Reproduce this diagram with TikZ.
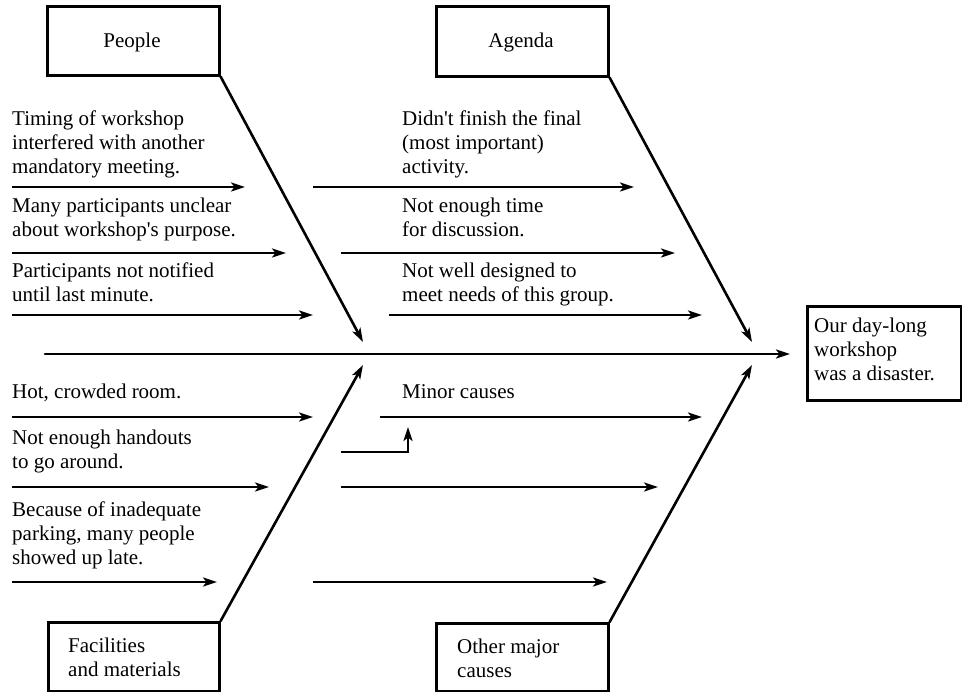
\documentclass[tikz,border=0pt]{standalone}
\usepackage{fontspec}
\setmainfont{Liberation Serif}
\usetikzlibrary{arrows.meta}
\newcommand\fishfont{\fontsize{21}{24}\selectfont}
\newcommand\lines[1]{\begin{tabular}[t]{@{}l@{}}#1\end{tabular}}
\tikzset{
  tip/.style={-{Stealth[length=14pt,width=9pt,inset=3.5pt]}},
  cause/.style={line width=2.3pt, tip},
  bone/.style={line width=2.6pt, line cap=round},
  boxnode/.style={draw, line width=2.6pt, rectangle, inner sep=0pt, anchor=north west},
  lbl/.style={anchor=base west, inner sep=0pt, font=\fishfont},
  ctr/.style={anchor=base, inner sep=0pt, font=\fishfont}
}
\begin{document}
\begin{tikzpicture}[x=1pt,y=-1pt]
\useasboundingbox (0,0) rectangle (962,692);

% category boxes
\node[boxnode, minimum width=172pt, minimum height=69pt] (people) at (46,5) {};
\node[boxnode, minimum width=172pt, minimum height=70pt] (agenda) at (435,5) {};
\node[boxnode, minimum width=171pt, minimum height=69pt] (facil) at (47,621) {};
\node[boxnode, minimum width=172pt, minimum height=68pt] (other) at (435,622) {};
\node[boxnode, minimum width=154pt, minimum height=94pt] (effect) at (806,305) {};

\node[ctr] (tpeople) at (132,48) {People};
\node[ctr] (tagenda) at (521,48) {Agenda};
\node[lbl] (tfacil) at (68,652) {\lines{Facilities\\and materials}};
\node[lbl] (tother) at (457,653) {\lines{Other major\\causes}};
\node[lbl] (teffect) at (814,333) {\lines{Our day-long\\workshop\\was a disaster.}};

% spine and bones
\coordinate (spineL) at (45,354);
\coordinate (spineR) at (790,354);
\coordinate (hitP) at (363,342);
\coordinate (hitA) at (752,342);
\coordinate (hitF) at (363,365);
\coordinate (hitO) at (752,365);
\draw[bone, tip] (spineL) -- (spineR);
\draw[bone, tip] (people.south east) -- (hitP);
\draw[bone, tip] (agenda.south east) -- (hitA);
\draw[bone, tip] (facil.north east) -- (hitF);
\draw[bone, tip] (other.north east) -- (hitO);

% left-hand causes
\coordinate (l1a) at (12,187); \coordinate (l1b) at (245,187);
\coordinate (l2a) at (12,253); \coordinate (l2b) at (286,253);
\coordinate (l3a) at (12,315); \coordinate (l3b) at (313,315);
\coordinate (l4a) at (12,417); \coordinate (l4b) at (313,417);
\coordinate (l5a) at (12,487); \coordinate (l5b) at (269,487);
\coordinate (l6a) at (12,582); \coordinate (l6b) at (217,582);
\foreach \k in {1,...,6} \draw[cause] (l\k a) -- (l\k b);

% middle causes
\coordinate (m1a) at (313,187); \coordinate (m1b) at (634,187);
\coordinate (m2a) at (341,253); \coordinate (m2b) at (675,253);
\coordinate (m3a) at (389,315); \coordinate (m3b) at (702,315);
\coordinate (m4a) at (380,417); \coordinate (m4b) at (702,417);
\coordinate (m5a) at (341,487); \coordinate (m5b) at (658,487);
\coordinate (m6a) at (313,582); \coordinate (m6b) at (607,582);
\foreach \k in {1,...,6} \draw[cause] (m\k a) -- (m\k b);

% minor cause feeding into a cause
\coordinate (mina) at (341,452);
\coordinate (minb) at (408,427);
\draw[cause] (mina) -| (minb);

% cause texts
\node[lbl] (c1) at (12,126) {\lines{Timing of workshop\\interfered with another\\mandatory meeting.}};
\node[lbl] (c2) at (12,213) {\lines{Many participants unclear\\about workshop\textquotesingle s purpose.}};
\node[lbl] (c3) at (12,278) {\lines{Participants not notified\\until last minute.}};
\node[lbl] (c4) at (12,399) {Hot, crowded room.};
\node[lbl] (c5) at (12,445) {\lines{Not enough handouts\\to go around.}};
\node[lbl] (c6) at (12,517) {\lines{Because of inadequate\\parking, many people\\showed up late.}};
\node[lbl] (c7) at (402,126) {\lines{Didn\textquotesingle t finish the final\\(most important)\\activity.}};
\node[lbl] (c8) at (402,213) {\lines{Not enough time\\for discussion.}};
\node[lbl] (c9) at (402,278) {\lines{Not well designed to\\meet needs of this group.}};
\node[lbl] (c10) at (402,399) {Minor causes};
\end{tikzpicture}
\end{document}
